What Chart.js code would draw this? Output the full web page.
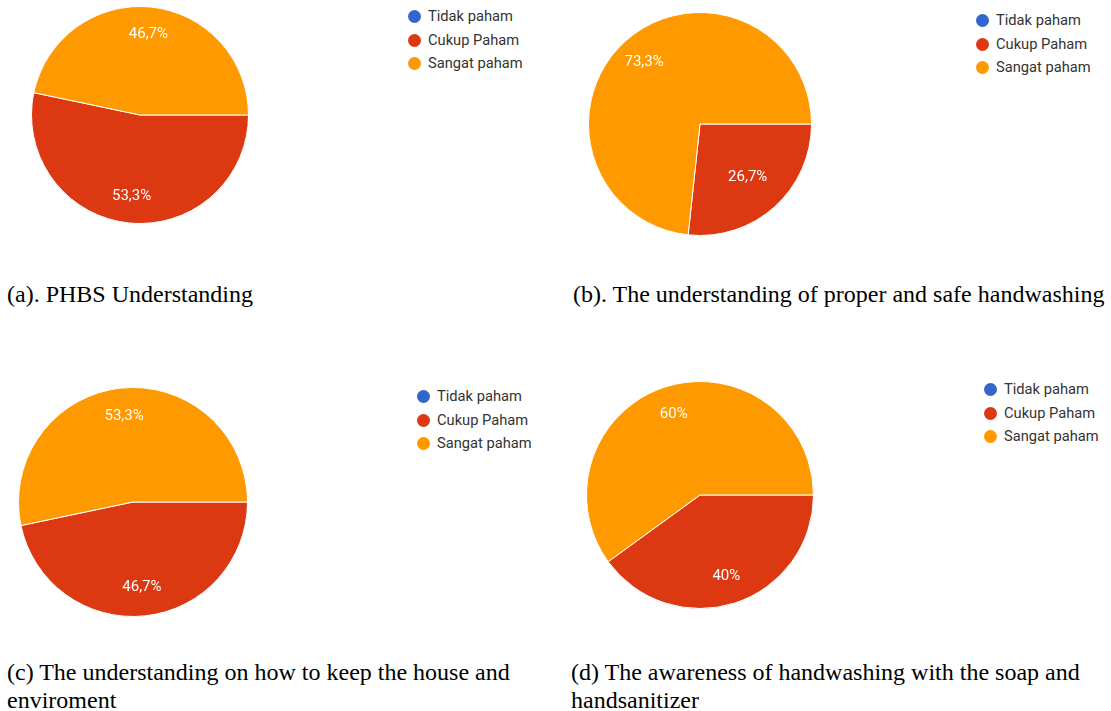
<!DOCTYPE html>
<html>
<head>
<meta charset="utf-8">
<script src="https://cdn.jsdelivr.net/npm/chart.js@4.4.1/dist/chart.umd.min.js"></script>
<style>
  body { margin: 0; background: #fff; }
  #page { position: relative; width: 1111px; height: 711px; overflow: hidden; }
  canvas { position: absolute; }
  .legend { position: absolute; margin: 0; padding: 0; list-style: none;
            font-family: Roboto, "Liberation Sans", Arial, sans-serif; font-size: 14.7px; color: #333; }
  .legend li { height: 23.5px; line-height: 23.5px; white-space: nowrap; }
  .legend span.dot { display: inline-block; width: 13px; height: 13px; border-radius: 50%;
                     vertical-align: -2px; margin-right: 7px; }
  .caption { position: absolute; font-family: "Liberation Serif", "Times New Roman", serif;
             font-size: 24px; line-height: 28px; color: #000; white-space: nowrap; }
</style>
</head>
<body>
<div id="page">
  <canvas id="pieA"></canvas>
  <canvas id="pieB"></canvas>
  <canvas id="pieC"></canvas>
  <canvas id="pieD"></canvas>
  <ul class="legend" id="legA" style="left:408px; top:5px;"></ul>
  <ul class="legend" id="legB" style="left:976px; top:9px;"></ul>
  <ul class="legend" id="legC" style="left:417px; top:385px;"></ul>
  <ul class="legend" id="legD" style="left:984px; top:378px;"></ul>
  <div class="caption" style="left:7px; top:280px;">(a). PHBS Understanding</div>
  <div class="caption" style="left:573px; top:280px;">(b). The understanding of proper and safe handwashing</div>
  <div class="caption" style="left:7px; top:658px;">(c) The understanding on how to keep the house and<br>enviroment</div>
  <div class="caption" style="left:571px; top:658px;">(d) The awareness of handwashing with the soap and<br>handsanitizer</div>
</div>
<script>
// answer categories (same for every question)
const categories = ['Tidak paham', 'Cukup Paham', 'Sangat paham'];
const colors = ['#3366cc', '#dc3912', '#ff9900'];

// percentage of respondents per category
const phbsUnderstanding = [0, 53.3, 46.7];
const handwashingUnderstanding = [0, 26.7, 73.3];
const houseUnderstanding = [0, 46.7, 53.3];
const soapAwareness = [0, 40, 60];

// where each pie sits on the page: centre and radius
const pies = [
  { id: 'pieA', legend: 'legA', data: phbsUnderstanding, cx: 140, cy: 115, r: 108 },
  { id: 'pieB', legend: 'legB', data: handwashingUnderstanding, cx: 700, cy: 124, r: 111 },
  { id: 'pieC', legend: 'legC', data: houseUnderstanding, cx: 133, cy: 502, r: 114 },
  { id: 'pieD', legend: 'legD', data: soapAwareness, cx: 700, cy: 495, r: 113 },
];

// white percentage labels inside the slices
const sliceLabels = {
  id: 'sliceLabels',
  afterDatasetsDraw(chart) {
    const ctx = chart.ctx;
    const values = chart.data.datasets[0].data;
    ctx.save();
    ctx.fillStyle = '#fff';
    ctx.font = '15px Roboto, "Liberation Sans", Arial, sans-serif';
    ctx.textAlign = 'center';
    ctx.textBaseline = 'middle';
    chart.getDatasetMeta(0).data.forEach(function (arc, i) {
      if (!values[i]) return;
      const p = arc.getProps(['x', 'y', 'startAngle', 'endAngle', 'outerRadius'], true);
      const mid = (p.startAngle + p.endAngle) / 2;
      // small slices get their label pulled a bit toward the centre
      const d = p.outerRadius * (values[i] < 30 ? 0.64 : 0.75);
      const text = String(values[i]).replace('.', ',') + '%';
      ctx.fillText(text, p.x + Math.cos(mid) * d, p.y + Math.sin(mid) * d);
    });
    ctx.restore();
  }
};

pies.forEach(function (pie) {
  const canvas = document.getElementById(pie.id);
  const size = pie.r * 2 + 2;
  canvas.width = size;
  canvas.height = size;
  canvas.style.left = (pie.cx - pie.r - 1) + 'px';
  canvas.style.top = (pie.cy - pie.r - 1) + 'px';

  const chart = new Chart(canvas.getContext('2d'), {
    type: 'pie',
    data: {
      labels: categories,
      datasets: [{
        data: pie.data,
        backgroundColor: colors,
        borderColor: '#fff',
        borderWidth: 1,
      }]
    },
    options: {
      responsive: false,
      animation: false,
      rotation: 90,
      layout: { padding: 0 },
      plugins: {
        legend: { display: false },
        tooltip: { enabled: false },
      },
    },
    plugins: [sliceLabels],
  });

  // legend from the chart's own legend items
  const items = chart.options.plugins.legend.labels.generateLabels(chart);
  const ul = document.getElementById(pie.legend);
  items.forEach(function (item) {
    const li = document.createElement('li');
    const dot = document.createElement('span');
    dot.className = 'dot';
    dot.style.background = item.fillStyle;
    li.appendChild(dot);
    li.appendChild(document.createTextNode(item.text));
    ul.appendChild(li);
  });
});
</script>
</body>
</html>
